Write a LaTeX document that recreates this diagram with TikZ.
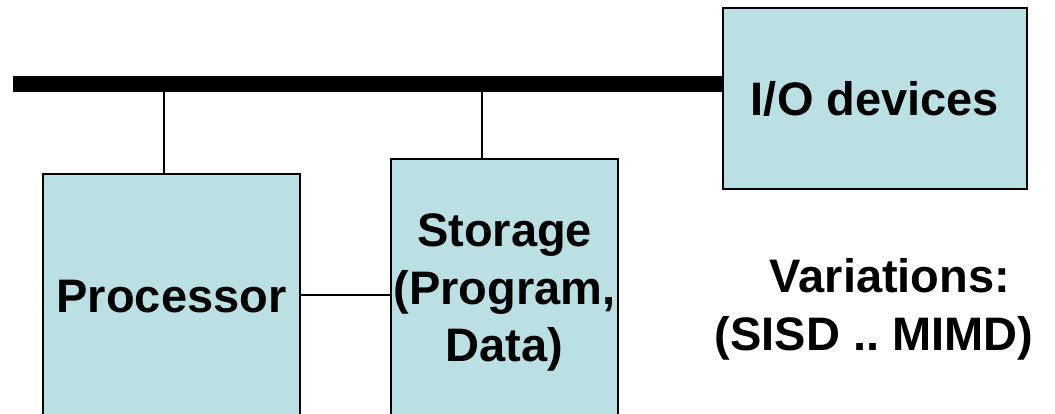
\documentclass[tikz,border=0pt]{standalone}
\usepackage{fontspec}
\setmainfont{Liberation Sans}
\frenchspacing
\begin{document}
\begin{tikzpicture}[x=1pt,y=-1pt,
  unit/.style={draw=black, line width=1.5pt, fill=boxfill, inner sep=0pt,
    font=\fontsize{47}{57.5}\selectfont\bfseries, align=center},
  wire/.style={line width=1.5pt},
  bus/.style={line width=16pt, line cap=butt},
  remark/.style={font=\fontsize{47}{57.5}\selectfont\bfseries, inner sep=0pt, anchor=base}]
\definecolor{boxfill}{HTML}{BBE0E3}
\useasboundingbox (0,0) rectangle (1055,413);

% functional units
\node[unit, minimum width=257pt, minimum height=246pt] (proc) at (171.5,297) {Processor};
\node[unit, minimum width=227pt, minimum height=267pt] (stor) at (504.5,292.5) {Storage\\(Program,\\Data)};
\node[unit, minimum width=304pt, minimum height=181pt] (io) at (875,98.5) {I/O devices};

% system bus
\coordinate (busL) at (13,84);
\coordinate (tapP) at (164,84);
\coordinate (tapS) at (482,84);
\draw[bus] (busL) -- (busL -| io.west);
\draw[wire] (tapP) -- (tapP |- proc.north);
\draw[wire] (tapS) -- (tapS |- stor.north);
\draw[wire] ([yshift=2pt]proc.east) -- ([yshift=2pt]proc.east -| stor.west);

% remark
\node[remark] (var1) at (890,292) {Variations:};
\node[remark] (var2) at (874,350) {(SISD .. MIMD)};
\end{tikzpicture}
\end{document}
